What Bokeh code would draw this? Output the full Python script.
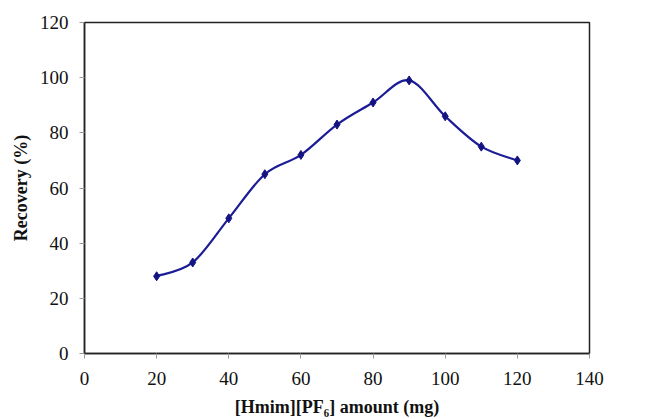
from bokeh.plotting import figure
from bokeh.models import Range1d, FixedTicker
from bokeh.embed import file_html
from bokeh.resources import INLINE
import numpy as np

amount_mg = [20, 30, 40, 50, 60, 70, 80, 90, 100, 110, 120]
recovery_pct = [28, 33, 49, 65, 72, 83, 91, 99, 86, 75, 70]
x_ticks = [0, 20, 40, 60, 80, 100, 120, 140]
y_ticks = [0, 20, 40, 60, 80, 100, 120]

SERIF = "'Liberation Serif', 'Times New Roman', serif"

p = figure(width=650, height=419, output_backend="svg", toolbar_location=None,
           x_range=Range1d(0, 140), y_range=Range1d(0, 120),
           min_border_left=84, min_border_right=61, min_border_top=22, min_border_bottom=65)
p.grid.visible = False
p.outline_line_color = "#222222"
p.outline_line_width = 1.5
p.background_fill_color = "white"
p.border_fill_color = "white"

for ax in (p.xaxis, p.yaxis):
    ax.axis_line_color = "#222222"
    ax.axis_line_width = 1.5
    ax.major_tick_line_color = "#999999"
    ax.major_tick_out = 5
    ax.major_tick_in = 0
    ax.minor_tick_line_color = None
    ax.major_label_text_font = SERIF
    ax.major_label_text_font_size = "19px"
    ax.major_label_text_color = "#111111"
    ax.axis_label_text_font = SERIF
    ax.axis_label_text_font_style = "bold"
    ax.axis_label_text_font_size = "18px"
    ax.axis_label_text_color = "#111111"

p.xaxis.ticker = FixedTicker(ticks=x_ticks)
p.yaxis.ticker = FixedTicker(ticks=y_ticks)
p.xaxis.axis_label = "[Hmim][PF\u2086] amount (mg)"
p.yaxis.axis_label = "Recovery (%)"
p.xaxis.major_label_standoff = 13
p.yaxis.major_label_standoff = 11
p.xaxis.axis_label_standoff = 9
p.yaxis.axis_label_standoff = 6

# smooth curve through the data points (Catmull-Rom style Bezier segments)
x = np.array(amount_mg, dtype=float)
y = np.array(recovery_pct, dtype=float)
xp = np.concatenate([[x[0]], x, [x[-1]]])
yp = np.concatenate([[y[0]], y, [y[-1]]])
x0, y0 = x[:-1], y[:-1]
x1, y1 = x[1:], y[1:]
cx0 = xp[1:-2] + (xp[2:-1] - xp[:-3]) / 6
cy0 = yp[1:-2] + (yp[2:-1] - yp[:-3]) / 6
cx1 = xp[2:-1] - (xp[3:] - xp[1:-2]) / 6
cy1 = yp[2:-1] - (yp[3:] - yp[1:-2]) / 6
p.bezier(x0=x0, y0=y0, x1=x1, y1=y1, cx0=cx0, cy0=cy0, cx1=cx1, cy1=cy1,
         line_color="#1c1c96", line_width=2.2)
p.scatter(amount_mg, recovery_pct, marker="diamond", size=9,
          fill_color="#141480", line_color="#141480")

open("out.html", "w").write(file_html(p, INLINE))
